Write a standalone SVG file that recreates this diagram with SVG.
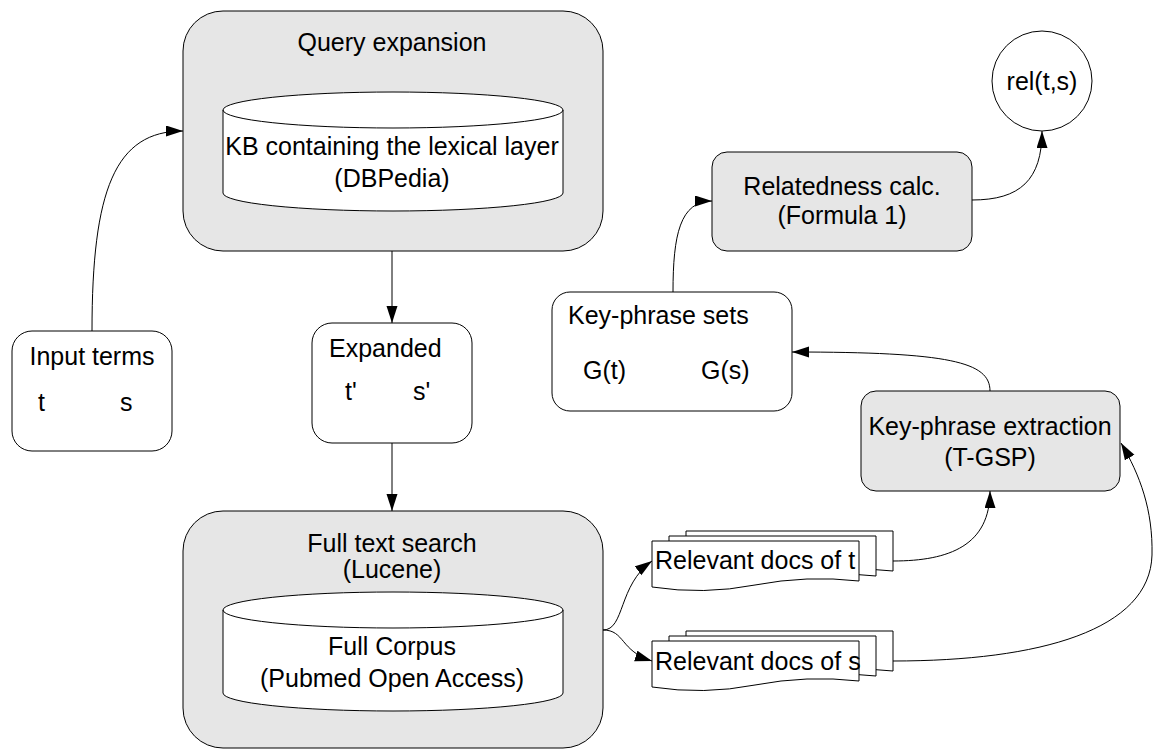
<svg xmlns="http://www.w3.org/2000/svg" width="1156" height="749" viewBox="0 0 1156 749">
<style>
text{font-family:"Liberation Sans",Arial,sans-serif;font-size:25px;fill:#000}
.c{text-anchor:middle}
.gray{fill:#e6e6e6;stroke:#000;stroke-width:1}
.white{fill:#fff;stroke:#000;stroke-width:1}
.edge{fill:none;stroke:#000;stroke-width:1}
</style>
<defs>
<marker id="arr" markerUnits="userSpaceOnUse" markerWidth="18" markerHeight="12" refX="17" refY="5.5" orient="auto" viewBox="0 0 18 12">
<path d="M0,0 L17,5.5 L0,11 Z" fill="#000"/>
</marker>
</defs>
<rect width="1156" height="749" fill="#fff"/>

<g id="query-expansion">
<rect class="gray" x="183" y="11" width="420" height="240" rx="40"/>
<text class="c" x="392" y="51">Query expansion</text>
<path class="white" d="M223,110 A170,18 0 0 1 563,110 L563,193 A170,18 0 0 1 223,193 Z"/>
<path class="edge" d="M223,110 A170,18 0 0 0 563,110"/>
<text class="c" x="392" y="155">KB containing the lexical layer</text>
<text class="c" x="392" y="187">(DBPedia)</text>
</g>

<g id="input-terms">
<rect class="white" x="12" y="331" width="160" height="120" rx="20"/>
<text class="c" x="92" y="365">Input terms</text>
<text x="38" y="411">t</text>
<text x="120" y="411">s</text>
</g>

<g id="expanded">
<rect class="white" x="312" y="323" width="160" height="120" rx="20"/>
<text x="329" y="357">Expanded</text>
<text x="345" y="400">t'</text>
<text x="413" y="400">s'</text>
</g>

<g id="full-text-search">
<rect class="gray" x="183" y="511" width="420" height="237" rx="40"/>
<text class="c" x="392" y="552">Full text search</text>
<text class="c" x="392" y="578">(Lucene)</text>
<path class="white" d="M223,610 A170,18 0 0 1 563,610 L563,693 A170,18 0 0 1 223,693 Z"/>
<path class="edge" d="M223,610 A170,18 0 0 0 563,610"/>
<text class="c" x="392" y="655">Full Corpus</text>
<text class="c" x="392" y="687">(Pubmed Open Access)</text>
</g>

<g id="docs-t">
<path class="white" d="M686,531 H893 V571 Q841,565 789,575 Q738,585 686,577 Z"/>
<path class="white" d="M669,536 H876 V576 Q824,570 772,580 Q721,590 669,582 Z"/>
<path class="white" d="M652,541 H859 V581 Q807,575 755,585 Q704,595 652,587 Z"/>
<text x="655" y="569">Relevant docs of t</text>
</g>

<g id="docs-s">
<path class="white" d="M686,631 H893 V671 Q841,665 789,675 Q738,685 686,677 Z"/>
<path class="white" d="M669,636 H876 V676 Q824,670 772,680 Q721,690 669,682 Z"/>
<path class="white" d="M652,641 H859 V681 Q807,675 755,685 Q704,695 652,687 Z"/>
<text x="655" y="670">Relevant docs of s</text>
</g>

<g id="key-phrase-extraction">
<rect class="gray" x="861" y="391" width="259" height="100" rx="15"/>
<text class="c" x="990" y="435">Key-phrase extraction</text>
<text class="c" x="990" y="466">(T-GSP)</text>
</g>

<g id="key-phrase-sets">
<rect class="white" x="552" y="292" width="240" height="119" rx="18"/>
<text x="568" y="324">Key-phrase sets</text>
<text x="583" y="379">G(t)</text>
<text x="701" y="379">G(s)</text>
</g>

<g id="relatedness">
<rect class="gray" x="712" y="152" width="260" height="99" rx="15"/>
<text class="c" x="842" y="195">Relatedness calc.</text>
<text class="c" x="842" y="224">(Formula 1)</text>
</g>

<g id="rel">
<circle class="white" cx="1042" cy="81" r="50"/>
<text class="c" x="1042" y="90">rel(t,s)</text>
</g>

<g id="connectors">
<path class="edge" marker-end="url(#arr)" d="M92,331 C92,190 115,131 183,131"/>
<path class="edge" marker-end="url(#arr)" d="M392,251 L392,323"/>
<path class="edge" marker-end="url(#arr)" d="M392,443 L392,511"/>
<path class="edge" marker-end="url(#arr)" d="M603,630 C625,630 618,585 652,561"/>
<path class="edge" marker-end="url(#arr)" d="M603,630 C625,630 620,651 652,661"/>
<path class="edge" marker-end="url(#arr)" d="M893,561 C950,561 990,545 990,491"/>
<path class="edge" marker-end="url(#arr)" d="M893,661 C1040,661 1150,630 1152,555 C1153,510 1140,475 1121,443"/>
<path class="edge" marker-end="url(#arr)" d="M990,391 C990,362 950,352 792,352"/>
<path class="edge" marker-end="url(#arr)" d="M673,292 C673,235 680,201 712,201"/>
<path class="edge" marker-end="url(#arr)" d="M972,200 C1020,200 1042,180 1042,131"/>
</g>
</svg>
